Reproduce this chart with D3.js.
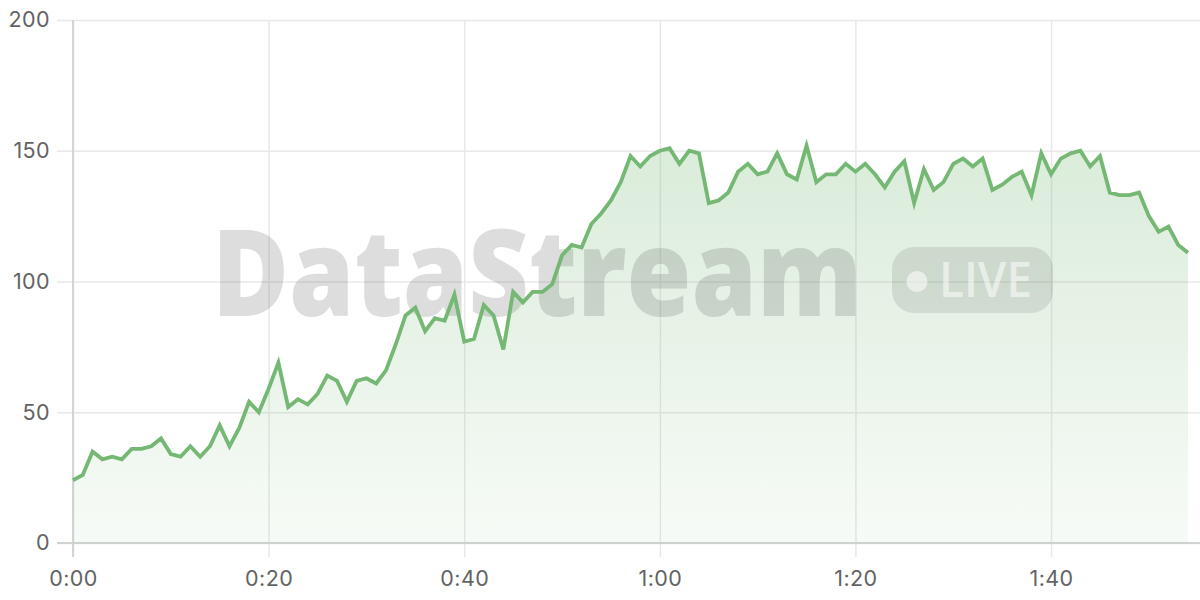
<!DOCTYPE html>
<html>
<head>
<meta charset="utf-8">
<script src="https://cdn.jsdelivr.net/npm/d3@7"></script>
<style>
  html, body { margin: 0; padding: 0; background: #ffffff; }
  svg { display: block; }
</style>
</head>
<body>
<svg id="chart" width="1200" height="600"></svg>
<script>
// ---- data (one sample per second, starting at 0:00) ----
const values = [
  24, 26, 35, 32, 33, 32, 36, 36, 37, 40, 34, 33, 37, 33, 37, 45, 37, 44, 54, 50, 59, 69, 52, 55, 53,
  57, 64, 62, 54, 62, 63, 61, 66, 76, 87, 90, 81, 86, 85, 95, 77, 78, 91, 87, 74, 96, 92, 96, 96, 99,
  110, 114, 113, 122, 126, 131, 138, 148, 144, 148, 150, 151, 145, 150, 149, 130, 131, 134, 142, 145, 141, 142, 149, 141, 139,
  152, 138, 141, 141, 145, 142, 145, 141, 136, 142, 146, 130, 143, 135, 138, 145, 147, 144, 147, 135, 137, 140, 142, 133, 149,
  141, 147, 149, 150, 144, 148, 134, 133, 133, 134, 125, 119, 121, 114, 111
];
const xTicks = [0, 20, 40, 60, 80, 100];
const xTickLabels = ["0:00", "0:20", "0:40", "1:00", "1:20", "1:40"];
const yTicks = [0, 50, 100, 150, 200];
const yTickLabels = ["0", "50", "100", "150", "200"];
const watermarkText = "DataStream";
const badgeText = "LIVE";

const data = values.map((v, i) => ({ t: i, v: v }));

// ---- layout ----
const W = 1200, H = 600;
const mLeft = 73, mTop = 20, mBottom = 543;
const svg = d3.select("#chart");

const x = d3.scaleLinear().domain([0, values.length - 1]).range([mLeft, 1188]);
const y = d3.scaleLinear().domain([0, 200]).range([mBottom, mTop]);

const fontFamily = "Inter, 'Open Sans', 'DejaVu Sans', sans-serif";

// gradient
const defs = svg.append("defs");
const grad = defs.append("linearGradient")
  .attr("id", "areaGrad")
  .attr("gradientUnits", "userSpaceOnUse")
  .attr("x1", 0).attr("x2", 0).attr("y1", y(152)).attr("y2", y(0));
grad.append("stop").attr("offset", "0%").attr("stop-color", "#76b876").attr("stop-opacity", 0.27);
grad.append("stop").attr("offset", "100%").attr("stop-color", "#76b876").attr("stop-opacity", 0.06);

// horizontal grid (y axis)
const yAxis = d3.axisLeft(y)
  .tickValues(yTicks)
  .tickSize(-(W - mLeft))
  .tickPadding(23)
  .tickFormat((d, i) => yTickLabels[i]);
const gy = svg.append("g").attr("transform", `translate(${mLeft},0)`).call(yAxis);
gy.select(".domain").remove();
gy.selectAll(".tick line")
  .attr("x1", -16)
  .attr("stroke", "#e8e8e8").attr("stroke-width", 1.5);
gy.selectAll(".tick text")
  .attr("fill", "#636363").attr("font-size", 21.5).attr("font-family", fontFamily)
  .attr("letter-spacing", 0.4)
  .attr("x", -23);

// vertical grid (x axis)
const xAxis = d3.axisBottom(x)
  .tickValues(xTicks)
  .tickSize(-(mBottom - mTop))
  .tickPadding(28)
  .tickFormat((d, i) => xTickLabels[i]);
const gx = svg.append("g").attr("transform", `translate(0,${mBottom})`).call(xAxis);
gx.select(".domain").remove();
gx.selectAll(".tick line")
  .attr("y1", 14)
  .attr("stroke", "#e8e8e8").attr("stroke-width", 1.5);
gx.selectAll(".tick text")
  .attr("fill", "#636363").attr("font-size", 21.5).attr("font-family", fontFamily)
  .attr("letter-spacing", 0.4)
  .attr("y", 28).attr("dy", "0.71em");

// axis lines
svg.append("line").attr("x1", mLeft).attr("x2", mLeft).attr("y1", mTop).attr("y2", mBottom + 14)
  .attr("stroke", "#d4d4d4").attr("stroke-width", 2);
svg.append("line").attr("x1", mLeft - 16).attr("x2", W).attr("y1", mBottom).attr("y2", mBottom)
  .attr("stroke", "#cfd3cf").attr("stroke-width", 2);

// area
const area = d3.area().x(d => x(d.t)).y0(y(0)).y1(d => y(d.v));
svg.append("path").datum(data).attr("d", area).attr("fill", "url(#areaGrad)");

// watermark: text fitted to a target width by a horizontal scale
function fittedText(parent, str, x0, baseline, width, size, weight, fill, opacity) {
  const g = parent.append("g");
  const t = g.append("text")
    .attr("x", 0).attr("y", 0)
    .attr("font-family", "'Open Sans', 'Liberation Sans', Arial, sans-serif")
    .attr("font-weight", weight).attr("font-size", size)
    .attr("fill", fill).attr("fill-opacity", opacity)
    .text(str);
  const natural = t.node().getComputedTextLength() || width;
  g.attr("transform", `translate(${x0},${baseline}) scale(${width / natural},1)`);
  return g;
}
const wm = svg.append("g").attr("pointer-events", "none");
fittedText(wm, watermarkText, 212, 316, 650, 120, 800, "#646464", 0.22);
wm.append("rect")
  .attr("x", 892).attr("y", 247).attr("width", 161).attr("height", 66).attr("rx", 22)
  .attr("fill", "#646464").attr("fill-opacity", 0.16);
wm.append("circle").attr("cx", 917).attr("cy", 281.5).attr("r", 10.5)
  .attr("fill", "#ffffff").attr("fill-opacity", 0.55);
fittedText(wm, badgeText, 939, 297, 93, 48, 600, "#ffffff", 0.55);

// line
const line = d3.line().x(d => x(d.t)).y(d => y(d.v));
svg.append("path").datum(data).attr("d", line)
  .attr("fill", "none").attr("stroke", "#74b874").attr("stroke-width", 3.8)
  .attr("stroke-linejoin", "miter").attr("stroke-linecap", "butt");
</script>
</body>
</html>
